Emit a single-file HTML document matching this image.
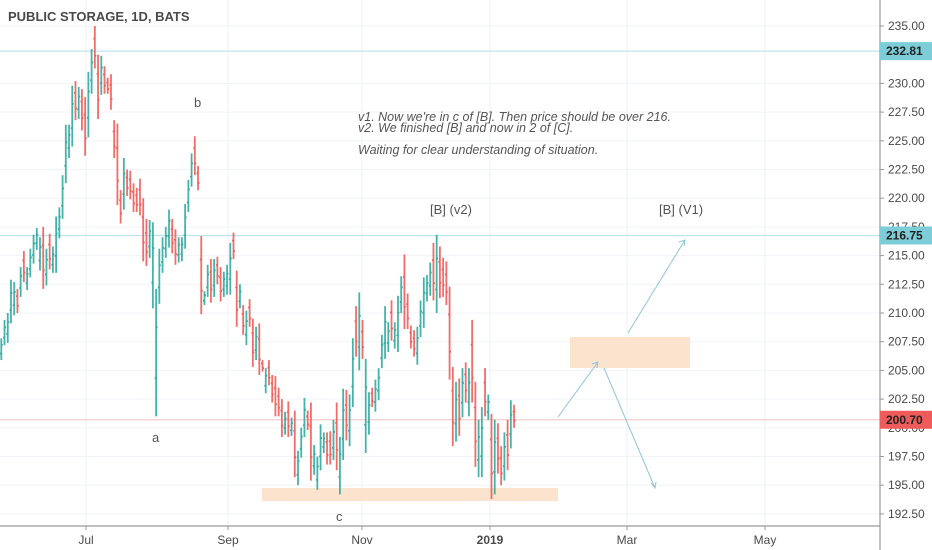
<!DOCTYPE html>
<html><head><meta charset="utf-8"><style>
body{margin:0;background:#fff;}
svg{display:block;font-family:"Liberation Sans",sans-serif;}
</style></head><body>
<svg id="chart" width="932" height="550" viewBox="0 0 932 550" xmlns="http://www.w3.org/2000/svg">
<rect x="0" y="0" width="932" height="550" fill="#fff"/>
<g id="grid"></g>
<g id="levels"></g>
<rect x="262" y="488" width="296" height="13" fill="#fbe3cd"/>
<rect x="570" y="337" width="120" height="31" fill="#fbe3cd"/>
<g id="bars"></g>
<g stroke="#8fc5d9" stroke-width="1" fill="none">
<line x1="558" y1="417" x2="598" y2="362"/><path d="M592,364 L598,362 L597,368"/>
<line x1="604" y1="368" x2="655" y2="488"/><path d="M651,483 L655,488 L656,482"/>
<line x1="628" y1="333" x2="685" y2="240"/><path d="M679,242 L685,240 L684,246"/>
</g>
<g fill="#555" font-size="13">
<text x="194" y="107">b</text>
<text x="152" y="442">a</text>
<text x="336" y="521">c</text>
<text x="430" y="214">[B] (v2)</text>
<text x="659" y="214">[B] (V1)</text>
</g>
<g fill="#555" font-size="12.5" font-style="italic">
<text x="358" y="121">v1. Now we're in c of [B]. Then price should be over 216.</text>
<text x="358" y="132">v2. We finished [B] and now in 2 of [C].</text>
<text x="358" y="154">Waiting for clear understanding of situation.</text>
</g>
<text x="8" y="21" font-size="13" font-weight="bold" fill="#4a4a4a">PUBLIC STORAGE, 1D, BATS</text>
<line x1="880" y1="0" x2="880" y2="550" stroke="#999" stroke-width="1.2"/>
<line x1="0" y1="526" x2="880" y2="526" stroke="#999" stroke-width="1.2"/>
<g id="axes"></g>
</svg>
<script>
const highs=[207.8,209.4,210.0,212.9,212.7,212.1,214.0,215.4,214.0,215.6,216.8,217.4,216.6,217.5,215.6,216.9,215.8,218.4,219.2,222.0,226.4,226.4,229.8,230.2,229.7,229.5,228.8,231.0,233.0,235.0,232.5,232.4,231.5,230.5,230.8,226.8,226.5,220.7,223.5,222.5,222.4,221.3,220.9,221.7,220.0,218.2,218.1,217.9,212.1,215.6,216.6,217.5,219.0,218.2,217.3,216.6,216.6,219.5,221.6,223.9,225.4,222.8,216.7,211.9,214.2,214.7,214.7,214.9,214.0,213.6,214.2,216.1,217.0,213.7,212.5,210.7,210.2,211.2,209.5,208.8,209.1,205.9,205.2,205.9,204.6,204.5,203.5,202.5,201.4,202.3,200.9,201.5,198.0,200.0,202.6,201.5,202.2,198.5,197.5,200.3,199.6,199.6,199.7,200.7,202.2,199.2,203.4,203.3,202.9,207.8,210.6,211.8,209.4,206.0,203.1,203.5,204.2,205.2,208.1,210.6,209.2,211.1,209.2,211.5,213.2,215.1,211.7,208.9,208.5,208.8,211.1,213.1,213.3,214.4,216.1,216.8,215.8,214.8,214.5,212.3,205.3,204.0,204.3,205.2,205.7,205.2,209.4,204.0,200.7,201.8,205.2,202.9,201.2,200.7,200.4,198.4,199.6,200.7,202.4,202.0];
const lows=[205.9,207.2,207.4,209.1,209.8,210.0,211.4,212.7,212.0,213.1,214.3,215.5,213.7,212.1,212.4,213.8,213.5,213.5,216.5,218.2,221.3,223.5,224.5,226.8,226.9,225.9,223.7,225.3,229.1,231.3,226.9,229.0,229.1,229.1,227.7,223.5,219.4,217.8,219.0,220.2,219.9,218.8,218.8,218.5,214.5,214.1,214.8,210.4,201.0,210.8,213.5,214.8,215.7,215.2,214.2,214.4,214.5,215.6,218.8,221.0,222.0,220.7,209.9,210.7,211.4,210.9,211.4,212.5,211.0,211.4,211.6,211.6,214.7,208.8,210.4,208.1,207.2,208.8,205.3,205.9,204.6,204.9,203.0,203.7,202.2,201.0,201.0,199.2,199.4,199.2,199.3,195.7,195.0,197.4,199.2,199.8,195.4,195.9,194.6,196.3,197.8,196.8,196.8,197.2,196.3,194.2,197.2,198.9,198.4,201.8,206.2,205.0,206.0,197.8,199.4,201.8,201.4,202.4,205.2,206.0,206.6,207.6,206.9,206.6,210.0,208.6,208.6,206.9,206.2,205.5,207.9,208.7,211.0,211.5,211.1,210.0,211.3,211.4,210.7,204.2,198.4,198.8,199.3,200.9,202.2,201.0,202.2,196.6,195.7,195.7,201.0,200.7,193.8,194.2,196.0,195.0,195.4,196.3,198.2,200.0];
const direction="GGGGGRGRGGGGGRGRGGGGGGGRGRRGGRRGRRRRRRGRRRRRRRGGGGGGGRRGGGGGRRRGGRGRRGGGRRGRGRRGRRGRRRRRGRGRGGGRRGGGGRRGRGGRGGRGRGGRGGGGGRGGGRRRRGGGGGRGRRRRRGRGRGRRGGRGRGRRGRG";
const timeTicks=[["Jul",86,false],["Sep",228,false],["Nov",362,false],["2019",490,true],["Mar",627,false],["May",765,false]];
const priceTicks=[235,230,227.5,225,222.5,220,217.5,215,212.5,210,207.5,205,202.5,200,197.5,195,192.5];
const levels=[[232.81,"#bfe4ec","#7ccdd8"],[216.75,"#bfe4ec","#7ccdd8"],[200.70,"#f8cccc","#ef5a5a"]];
const NS="http://www.w3.org/2000/svg";
function yOf(p){return 26+(235-p)*11.48;}
function xOf(i){return 1.3+i*3.225;}
function mk(tag,attrs,parent){const e=document.createElementNS(NS,tag);for(const k in attrs)e.setAttribute(k,attrs[k]);parent.appendChild(e);return e;}
const grid=document.getElementById('grid');
priceTicks.forEach(p=>{const l=mk('line',{x1:0,x2:880,y1:yOf(p),y2:yOf(p),stroke:'#f0f3f6','stroke-width':1},grid);

});
timeTicks.forEach(t=>{const l=mk('line',{x1:t[1],x2:t[1],y1:0,y2:526,stroke:'#eef3f7','stroke-width':1},grid);

});
const lv=document.getElementById('levels');
const axes=document.getElementById('axes');
priceTicks.forEach(p=>{
 const t=mk('text',{x:888,y:yOf(p)+4,'font-size':12,fill:'#4a4a4a'},axes);t.textContent=p.toFixed(2);
 
 
 mk('line',{x1:880,x2:884,y1:yOf(p),y2:yOf(p),stroke:'#999'},axes);
});
levels.forEach(v=>{
 const y=yOf(v[0]);
 const l=mk('line',{x1:0,x2:880,y1:y,y2:y,stroke:v[1],'stroke-width':1.2},lv);
 
 
 const r=mk('rect',{x:880,y:y-9,width:52,height:18,fill:v[2]},axes);
 
 
 const t=mk('text',{x:886,y:y+4,'font-size':12,'font-weight':'bold',fill:'#222'},axes);t.textContent=v[0].toFixed(2);
 
 
});
timeTicks.forEach(t=>{
 mk('line',{x1:t[1],x2:t[1],y1:526,y2:530,stroke:'#999'},axes);
 const e=mk('text',{x:t[1],y:544,'font-size':12,'text-anchor':'middle',fill:'#4a4a4a','font-weight':t[2]?'bold':'normal'},axes);e.textContent=t[0];
 
 
});
const bars=document.getElementById('bars');
highs.forEach((h,i)=>{
 const l=lows[i],up=direction[i]==='G',col=up?'#26a69a':'#ef5350';
 const o=up?l+0.3*(h-l):h-0.3*(h-l),c=up?h-0.3*(h-l):l+0.3*(h-l);
 const x=xOf(i);
 const g=mk('g',{stroke:col,'stroke-width':1.8,'stroke-opacity':0.85},bars);
 
 
 mk('line',{x1:x,x2:x,y1:yOf(h),y2:yOf(l)},g);
 mk('line',{x1:x-1.5,x2:x,y1:yOf(o),y2:yOf(o)},g);
 mk('line',{x1:x,x2:x+1.5,y1:yOf(c),y2:yOf(c)},g);
});
</script>
</body></html>
